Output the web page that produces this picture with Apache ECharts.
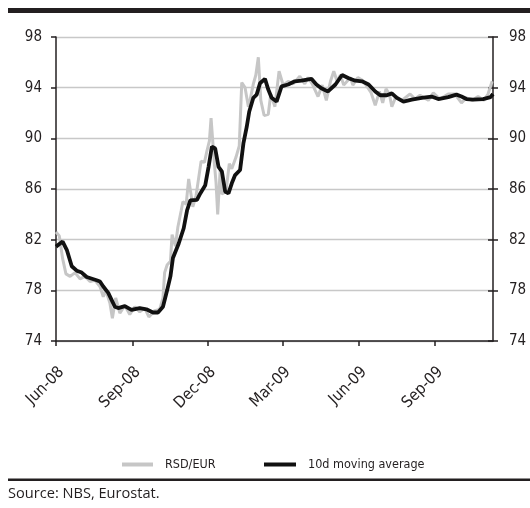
<!DOCTYPE html>
<html><head><meta charset="utf-8">
<script src="https://cdn.jsdelivr.net/npm/echarts@6/dist/echarts.min.js"></script>
<style>html,body{margin:0;padding:0;background:#fff;}#c{width:530px;height:508px;}</style>
</head><body><div id="c"></div>
<script>
// ---- data ----
const rawDates = ['2008-06-01','2008-06-05','2008-06-09','2008-06-13','2008-06-18','2008-06-24','2008-06-30','2008-07-06','2008-07-12','2008-07-18','2008-07-24','2008-07-28','2008-07-31','2008-08-05','2008-08-08','2008-08-12','2008-08-17','2008-08-23','2008-08-29','2008-09-04','2008-09-10','2008-09-16','2008-09-21','2008-09-28','2008-10-04','2008-10-08','2008-10-10','2008-10-13','2008-10-17','2008-10-19','2008-10-23','2008-10-26','2008-10-30','2008-11-01','2008-11-05','2008-11-08','2008-11-13','2008-11-17','2008-11-23','2008-11-27','2008-11-30','2008-12-03','2008-12-05','2008-12-09','2008-12-11','2008-12-13','2008-12-16','2008-12-18','2008-12-23','2008-12-27','2008-12-30','2009-01-04','2009-01-08','2009-01-11','2009-01-15','2009-01-19','2009-01-21','2009-01-25','2009-01-28','2009-01-31','2009-02-03','2009-02-07','2009-02-12','2009-02-15','2009-02-20','2009-02-25','2009-03-02','2009-03-08','2009-03-14','2009-03-22','2009-03-28','2009-04-01','2009-04-06','2009-04-13','2009-04-18','2009-04-23','2009-04-28','2009-05-02','2009-05-06','2009-05-10','2009-05-14','2009-05-22','2009-05-25','2009-05-31','2009-06-05','2009-06-10','2009-06-16','2009-06-21','2009-06-26','2009-06-30','2009-07-04','2009-07-08','2009-07-11','2009-07-16','2009-07-23','2009-08-02','2009-08-08','2009-08-14','2009-08-24','2009-08-30','2009-09-07','2009-09-17','2009-09-25','2009-10-03','2009-10-09','2009-10-16','2009-10-23','2009-10-30','2009-11-04','2009-11-09'];
const rawValues = [82.6,82.3,80.5,79.3,79.1,79.4,78.9,79.1,78.7,78.8,78.3,77.5,78.0,77.0,75.8,77.4,76.2,76.8,76.1,76.7,76.3,76.6,75.9,76.4,76.5,77.4,79.4,80.0,80.3,82.4,81.5,83.0,84.3,85.0,84.8,86.8,84.6,85.5,88.2,88.1,89.0,89.8,91.6,88.0,86.5,84.0,87.5,85.6,85.8,88.0,87.6,88.5,89.4,94.4,94.0,92.5,93.0,94.3,95.0,96.4,93.0,91.8,91.9,93.5,92.5,95.3,94.2,94.5,94.3,94.9,94.3,94.8,94.3,93.3,94.2,93.0,94.5,95.3,94.5,95.0,94.2,94.8,94.2,94.8,94.6,94.2,93.6,92.6,93.7,92.8,93.9,93.5,92.5,93.3,93.0,93.5,93.1,93.4,93.0,93.6,93.1,93.5,93.5,92.8,93.2,93.0,93.3,93.0,93.5,94.5];

const maDates = ['2008-06-01','2008-06-09','2008-06-14','2008-06-20','2008-06-26','2008-07-02','2008-07-08','2008-07-20','2008-07-24','2008-07-28','2008-08-03','2008-08-11','2008-08-15','2008-08-23','2008-08-31','2008-09-10','2008-09-18','2008-09-26','2008-10-02','2008-10-08','2008-10-13','2008-10-17','2008-10-20','2008-10-27','2008-11-02','2008-11-06','2008-11-10','2008-11-18','2008-11-22','2008-11-28','2008-12-02','2008-12-06','2008-12-10','2008-12-14','2008-12-18','2008-12-22','2008-12-26','2008-12-30','2009-01-03','2009-01-09','2009-01-13','2009-01-17','2009-01-20','2009-01-25','2009-01-29','2009-02-02','2009-02-08','2009-02-12','2009-02-16','2009-02-22','2009-02-28','2009-03-08','2009-03-16','2009-03-24','2009-04-05','2009-04-11','2009-04-17','2009-04-25','2009-05-04','2009-05-12','2009-05-20','2009-05-28','2009-06-05','2009-06-13','2009-06-21','2009-06-27','2009-07-05','2009-07-11','2009-07-17','2009-07-25','2009-08-04','2009-08-16','2009-08-28','2009-09-05','2009-09-17','2009-09-27','2009-10-03','2009-10-09','2009-10-17','2009-10-29','2009-11-07','2009-11-10'];
const maValues = [81.45,81.85,81.2,79.9,79.55,79.4,79.05,78.8,78.7,78.3,77.8,76.7,76.6,76.75,76.45,76.6,76.5,76.25,76.25,76.7,78.0,79.1,80.55,81.7,82.9,84.3,85.1,85.15,85.65,86.3,87.75,89.35,89.2,87.75,87.4,85.8,85.65,86.45,87.1,87.5,89.6,90.9,92.1,93.2,93.45,94.35,94.7,93.85,93.2,92.9,94.1,94.25,94.5,94.55,94.7,94.25,93.95,93.7,94.25,95.0,94.75,94.55,94.5,94.25,93.7,93.4,93.4,93.55,93.2,92.9,93.05,93.2,93.3,93.1,93.25,93.45,93.3,93.1,93.05,93.1,93.25,93.5];

const seriesNames = ['RSD/EUR','10d moving average'];
const tickDates = ['2008-06-01','2008-09-01','2008-12-01','2009-03-01','2009-06-01','2009-09-01'];
const monthNames = ['Jan','Feb','Mar','Apr','May','Jun','Jul','Aug','Sep','Oct','Nov','Dec'];
const yMin = 74, yMax = 98, yStep = 4;
const firstDay = '2008-06-01', lastDay = '2009-11-10';
const sourceText = 'Source: NBS, Eurostat.';

// ---- daily categories ----
const days = [];
for (let t = Date.parse(firstDay + 'T00:00:00Z'); t <= Date.parse(lastDay + 'T00:00:00Z'); t += 86400000) {
  days.push(new Date(t).toISOString().slice(0, 10));
}
const zip = (a, b) => a.map((d, i) => [d, b[i]]);
const isTick = (i, v) => tickDates.indexOf(v) >= 0;
const fmt = v => monthNames[+v.slice(5, 7) - 1] + '-' + v.slice(2, 4);

const NARROW = '"Liberation Sans Narrow","Arial Narrow","DejaVu Sans Condensed",sans-serif';
const INK = '#231f20';

const chart = echarts.init(document.getElementById('c'), null, {renderer: 'canvas'});
const yBase = {type: 'value', min: yMin, max: yMax, interval: yStep};
chart.setOption({
  animation: false,
  backgroundColor: '#fff',
  grid: {left: 56, right: 37, top: 37, bottom: 167},
  xAxis: {
    type: 'category', data: days, boundaryGap: false,
    axisLine: {show: true, lineStyle: {color: INK, width: 1.5}},
    axisTick: {show: true, interval: isTick, length: 5, lineStyle: {color: INK, width: 1.5}},
    axisLabel: {interval: isTick, formatter: fmt, rotate: 45, align: 'right', verticalAlign: 'top',
      margin: 23, fontSize: 16, color: INK, fontFamily: NARROW},
    splitLine: {show: false}
  },
  yAxis: [
    Object.assign({}, yBase, {position: 'left',
      axisLine: {show: true, lineStyle: {color: INK, width: 1.5}},
      axisTick: {show: true, length: 5, lineStyle: {color: INK, width: 1.5}},
      axisLabel: {margin: 14, fontSize: 15, color: INK, fontFamily: NARROW},
      splitLine: {show: true, lineStyle: {color: '#c8c8c8', width: 1.3}}}),
    Object.assign({}, yBase, {position: 'right',
      axisLine: {show: true, lineStyle: {color: INK, width: 1.5}},
      axisTick: {show: true, length: 5, lineStyle: {color: INK, width: 1.5}},
      axisLabel: {margin: 16, fontSize: 15, color: INK, fontFamily: NARROW},
      splitLine: {show: false}}),
    Object.assign({}, yBase, {position: 'right',
      axisLine: {show: false},
      axisTick: {show: true, inside: true, length: 5, lineStyle: {color: INK, width: 1.5}},
      axisLabel: {show: false},
      splitLine: {show: false}})
  ],
  legend: [
    {data: [seriesNames[0]], left: 122, top: 458, padding: 0, icon: 'rect', itemWidth: 31, itemHeight: 4,
      textStyle: {fontSize: 12.5, color: INK, fontFamily: NARROW, padding: [0, 0, 0, 7]}},
    {data: [seriesNames[1]], left: 264, top: 458, padding: 0, icon: 'rect', itemWidth: 32, itemHeight: 4,
      textStyle: {fontSize: 12.5, color: INK, fontFamily: NARROW, padding: [0, 0, 0, 7]}}
  ],
  series: [
    {name: seriesNames[0], type: 'line', data: zip(rawDates, rawValues), showSymbol: false, symbol: 'none',
      lineStyle: {color: '#c6c6c6', width: 3}, itemStyle: {color: '#c6c6c6'}, z: 2},
    {name: seriesNames[1], type: 'line', data: zip(maDates, maValues), showSymbol: false, symbol: 'none',
      lineStyle: {color: '#111111', width: 3.8}, itemStyle: {color: '#111111'}, z: 3}
  ],
  graphic: [
    {type: 'rect', shape: {x: 8, y: 8, width: 522, height: 5}, style: {fill: INK}},
    {type: 'rect', shape: {x: 8, y: 478.5, width: 522, height: 2.5}, style: {fill: INK}},
    {type: 'text', left: 8, top: 486, style: {text: sourceText, fontSize: 14.6, fill: INK, fontFamily: '"Open Sans",sans-serif'}}
  ]
});
</script></body></html>
